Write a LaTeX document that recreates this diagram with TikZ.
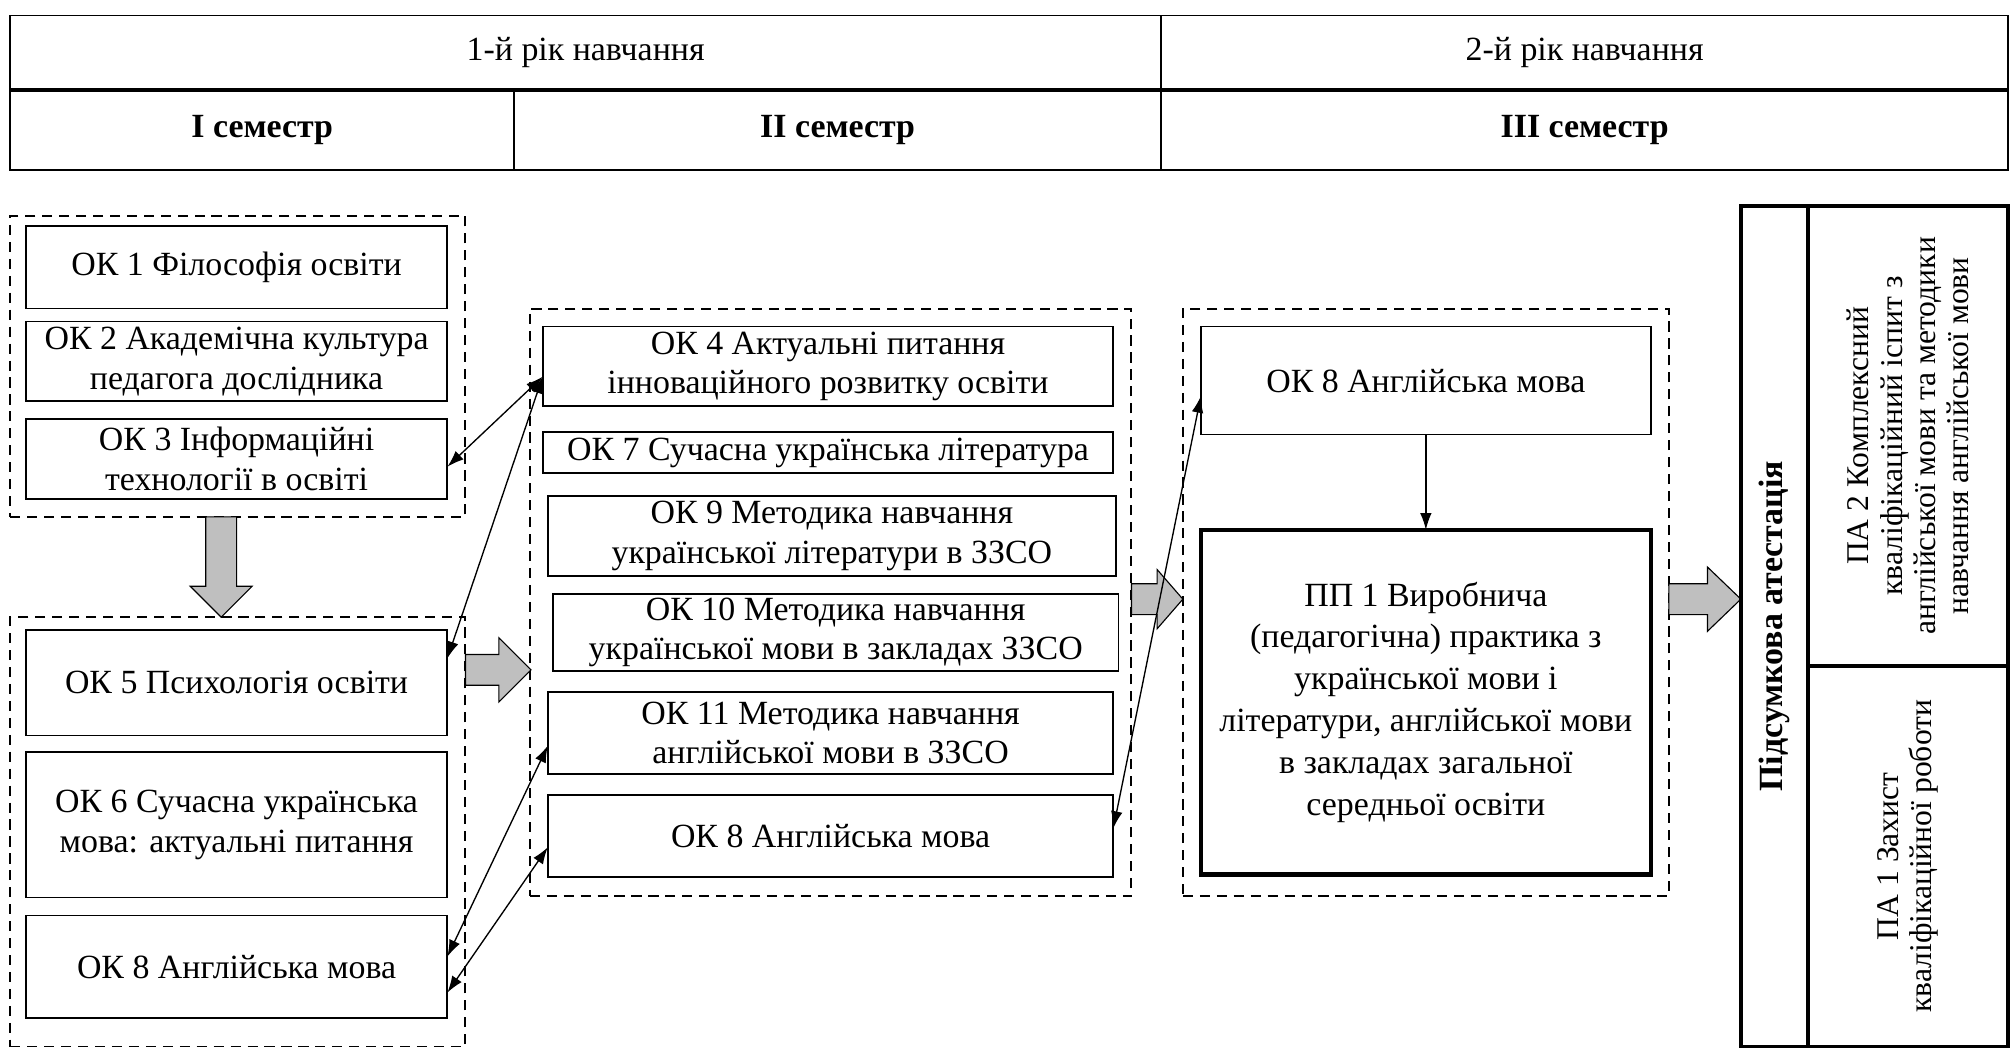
\documentclass[tikz,border=0pt]{standalone}
\usepackage{fontspec}
\setmainfont{Liberation Serif}
\usetikzlibrary{arrows.meta,calc}

\begin{document}
\begin{tikzpicture}[x=0.02cm,y=-0.02cm,every node/.style={font=\fontsize{15}{17.5}\selectfont}]

\tikzstyle{box}=[draw,line width=0.8pt,inner sep=0pt,outer sep=0pt,align=center];
\tikzstyle{grp}=[draw,line width=0.8pt,dash pattern=on 4.5pt off 3pt,inner sep=0pt,outer sep=0pt];
\tikzstyle{cell}=[draw,line width=0.8pt,inner sep=0pt,outer sep=0pt];
\tikzstyle{hd}=[font=\fontsize{15}{17.5}\selectfont\bfseries];
\tikzstyle{tbl}=[draw,line width=1.6pt,inner sep=0pt,outer sep=0pt,rotate=90,align=center];
\tikzstyle{lnk}=[{Latex[length=2.6mm,width=1.8mm]}-{Latex[length=2.6mm,width=1.8mm]},line width=0.6pt];
\tikzstyle{blk}=[draw,fill=black!25,line width=0.5pt];

\useasboundingbox (0,0) rectangle (1568,816);

% header
\node[cell,minimum width=17.9cm,minimum height=1.16cm] (y1) at (455.5,41) {1-й рік навчання};
\node[cell,minimum width=13.18cm,minimum height=1.16cm] (y2) at (1232.5,41) {2-й рік навчання};
\node[cell,hd,minimum width=7.84cm,minimum height=1.24cm] (s1) at (204,101) {I семестр};
\node[cell,hd,minimum width=10.06cm,minimum height=1.24cm] (s2) at (651.5,101) {II семестр};
\node[cell,hd,minimum width=13.18cm,minimum height=1.24cm] (s3) at (1232.5,101) {III семестр};
\draw[line width=2pt] (y1.south west) -- (y2.south east);

% groups
\node[grp,minimum width=7.08cm,minimum height=4.68cm] (g1) at (185,285) {};
\node[grp,minimum width=7.08cm,minimum height=6.68cm] (g2) at (185,647) {};
\node[grp,minimum width=9.36cm,minimum height=9.14cm] (g3) at (646,468.5) {};
\node[grp,minimum width=7.56cm,minimum height=9.14cm] (g4) at (1109,468.5) {};

% block arrows
\coordinate (d1) at (172,402);
\coordinate (d2) at (172,480);
\draw[blk] ($(d1)+(-12,0)$) -- ($(d2)+(-12,-24)$) -- ($(d2)+(-24,-24)$) -- (d2) -- ($(d2)+(24,-24)$) -- ($(d2)+(12,-24)$) -- ($(d1)+(12,0)$) -- cycle;
\coordinate (r1a) at (362,521);
\coordinate (r1b) at (413,521);
\draw[blk] ($(r1a)+(0,-12)$) -- ($(r1b)+(-25,-12)$) -- ($(r1b)+(-25,-25)$) -- (r1b) -- ($(r1b)+(-25,25)$) -- ($(r1b)+(-25,12)$) -- ($(r1a)+(0,12)$) -- cycle;
\coordinate (r2a) at (880,466);
\coordinate (r2b) at (920,466);
\draw[blk] ($(r2a)+(0,-12)$) -- ($(r2b)+(-20,-12)$) -- ($(r2b)+(-20,-23)$) -- (r2b) -- ($(r2b)+(-20,23)$) -- ($(r2b)+(-20,12)$) -- ($(r2a)+(0,12)$) -- cycle;
\coordinate (r3a) at (1298,466);
\coordinate (r3b) at (1354,466);
\draw[blk] ($(r3a)+(0,-12)$) -- ($(r3b)+(-26,-12)$) -- ($(r3b)+(-26,-25)$) -- (r3b) -- ($(r3b)+(-26,25)$) -- ($(r3b)+(-26,12)$) -- ($(r3a)+(0,12)$) -- cycle;

% I semester
\node[box,minimum width=6.56cm,minimum height=1.28cm] (ok1) at (184,208) {ОК 1 Філософія освіти};
\node[box,minimum width=6.56cm,minimum height=1.24cm] (ok2) at (184,281) {ОК 2 Академічна культура\\педагога дослідника};
\node[box,minimum width=6.56cm,minimum height=1.24cm] (ok3) at (184,357) {ОК 3 Інформаційні\\технології в освіті};
\node[box,minimum width=6.56cm,minimum height=1.64cm] (ok5) at (184,531) {ОК 5 Психологія освіти};
\node[box,minimum width=6.56cm,minimum height=2.26cm] (ok6) at (184,641.5) {ОК 6 Сучасна українська\\мова: актуальні питання};
\node[box,minimum width=6.56cm,minimum height=1.6cm] (ok8a) at (184,752) {ОК 8 Англійська мова};

% II semester
\node[box,minimum width=8.88cm,minimum height=1.24cm] (ok4) at (644,285) {ОК 4 Актуальні питання\\інноваційного розвитку освіти};
\node[box,minimum width=8.88cm,minimum height=0.64cm] (ok7) at (644,352) {ОК 7 Сучасна українська література};
\node[box,minimum width=8.84cm,minimum height=1.24cm] (ok9) at (647,417) {ОК 9 Методика навчання\\української літератури в ЗЗСО};
\node[box,minimum width=8.8cm,minimum height=1.2cm] (ok10) at (650,492) {ОК 10 Методика навчання\\української мови в закладах ЗЗСО};
\node[box,minimum width=8.8cm,minimum height=1.28cm] (ok11) at (646,570) {ОК 11 Методика навчання\\англійської мови в ЗЗСО};
\node[box,minimum width=8.8cm,minimum height=1.28cm] (ok8b) at (646,650) {ОК 8 Англійська мова};

% III semester
\node[box,minimum width=7cm,minimum height=1.68cm] (ok8c) at (1109,296) {ОК 8 Англійська мова};
\node[box,line width=2pt,font=\fontsize{15}{18.5}\selectfont,minimum width=7cm,minimum height=5.36cm] (pp1) at (1109,546) {ПП 1 Виробнича\\(педагогічна) практика з\\української мови і\\літератури, англійської мови\\в закладах загальної\\середньої освіти};

% attestation
\node[tbl,font=\fontsize{15}{17}\selectfont\bfseries,minimum width=13.08cm,minimum height=1.04cm] (att) at (1380,487) {Підсумкова атестація};
\node[tbl,font=\fontsize{14}{14.7}\selectfont,minimum width=7.16cm,minimum height=3.12cm] (pa2) at (1484,339) {ПА 2 Комплексний\\кваліфікаційний іспит з\\англійської мови та методики\\навчання англійської мови};
\node[tbl,font=\fontsize{14}{14.7}\selectfont,minimum width=5.92cm,minimum height=3.12cm] (pa1) at (1484,666) {ПА 1 Захист\\кваліфікаційної роботи};

% links
\draw[lnk] ($(ok3.east)+(0,6)$) -- ($(ok4.west)+(0,8)$);
\draw[lnk] ($(ok5.east)+(0,-19)$) -- ($(ok4.west)+(0,8)$);
\draw[lnk] ($(ok8a.east)+(0,-8)$) -- ($(ok11.west)+(0,10)$);
\draw[lnk] ($(ok8a.east)+(0,20)$) -- ($(ok8b.west)+(0,9)$);
\draw[lnk] ($(ok8b.east)+(0,-6)$) -- ($(ok8c.west)+(0,12)$);
\draw[-{Latex[length=2.6mm,width=1.8mm]},line width=0.6pt] (ok8c) -- (pp1);

\end{tikzpicture}
\end{document}
